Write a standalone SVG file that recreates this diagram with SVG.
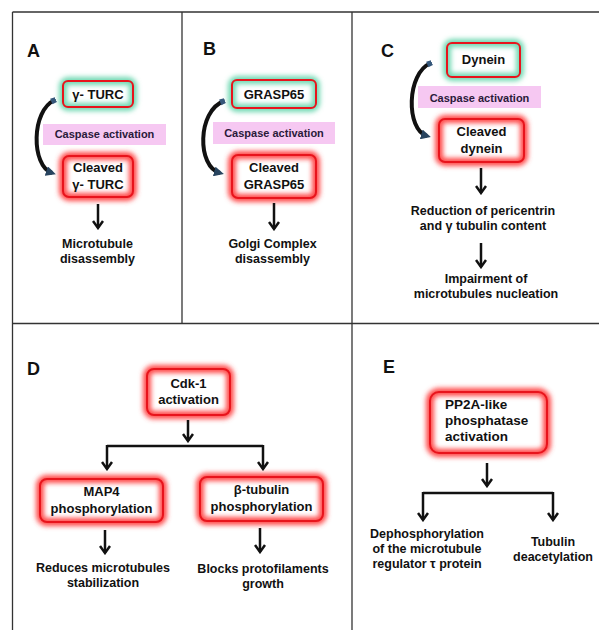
<svg xmlns="http://www.w3.org/2000/svg" width="599" height="630" viewBox="0 0 599 630">
<defs>
<style>
.frame{stroke:#333;stroke-width:1.3;fill:none}
.lbl{font-family:"Liberation Sans",Arial,sans-serif;font-weight:bold;font-size:18px;fill:#111}
.t{font-family:"Liberation Sans",Arial,sans-serif;font-weight:bold;font-size:13px;fill:#111;text-anchor:middle}
.r{font-family:"Liberation Sans",Arial,sans-serif;font-weight:bold;font-size:12.5px;fill:#111;text-anchor:middle}
.cas{font-family:"Liberation Sans",Arial,sans-serif;font-weight:bold;font-size:11px;fill:#2a1a3a;text-anchor:middle}
.pink{fill:#f6c8f2}
.gg{fill:none;stroke:#6fd8b2;stroke-width:8;filter:url(#blur)}
.rg{fill:none;stroke:#ff4a4a;stroke-width:8;filter:url(#blur)}
.box{fill:none;stroke:#e8141c;stroke-width:2}
.arr{stroke:#111;stroke-width:2.5;fill:none;marker-end:url(#chev)}
.seg{stroke:#111;stroke-width:2.5;fill:none}
.curve{stroke:#111;stroke-width:4;fill:none;marker-end:url(#ch);marker-start:url(#tab)}
</style>
<filter id="blur" x="-30%" y="-40%" width="160%" height="180%"><feGaussianBlur stdDeviation="2.6"/></filter>
<marker id="chev" markerUnits="userSpaceOnUse" viewBox="0 0 12 12" refX="10" refY="6" markerWidth="12" markerHeight="12" orient="auto"><path d="M3,1 L10,6 L3,11" fill="none" stroke="#111" stroke-width="2.5"/></marker>
<marker id="ch" markerUnits="userSpaceOnUse" viewBox="0 0 10 10" refX="6" refY="5" markerWidth="10" markerHeight="10" orient="auto"><path d="M0,0 L10,5 L0,10 Z" fill="#28445f"/></marker>
<marker id="tab" markerUnits="userSpaceOnUse" viewBox="0 0 8 8" refX="1" refY="4" markerWidth="8" markerHeight="8" orient="auto"><path d="M0,1.5 L5,1 L5,7 L0,6.5 Z" fill="#35577a"/></marker>
</defs>
<rect width="599" height="630" fill="#fff"/>
<g id="frame">
<line class="frame" x1="12.5" y1="12" x2="599" y2="12"/>
<line class="frame" x1="12.5" y1="12" x2="12.5" y2="630"/>
<line class="frame" x1="182" y1="12" x2="182" y2="323.5"/>
<line class="frame" x1="352" y1="12" x2="352" y2="630"/>
<line class="frame" x1="12.5" y1="323.5" x2="599" y2="323.5"/>
</g>
<g id="labels">
<text class="lbl" x="27" y="57">A</text>
<text class="lbl" x="203" y="55">B</text>
<text class="lbl" x="381" y="57">C</text>
<text class="lbl" x="27" y="375">D</text>
<text class="lbl" x="383" y="373">E</text>
</g>
<g id="caspA"><rect class="pink" x="43" y="124" width="123" height="21"/><text class="cas" x="104.5" y="138">Caspase activation</text></g>
<g id="caspB"><rect class="pink" x="213" y="122" width="122" height="22"/><text class="cas" x="274" y="137">Caspase activation</text></g>
<g id="caspC"><rect class="pink" x="418" y="86" width="123" height="22"/><text class="cas" x="479.5" y="101.5">Caspase activation</text></g>
<g id="nodeA1"><rect class="gg" x="63" y="81" width="70" height="26" rx="5"/><rect class="box" x="63" y="81" width="70" height="26" rx="5"/><text class="t" x="98" y="98.5">γ- TURC</text></g>
<g id="nodeA2"><rect class="rg" x="63" y="156" width="70" height="41" rx="6"/><rect class="box" x="63" y="156" width="70" height="41" rx="6"/><text class="t" x="98" y="172">Cleaved</text><text class="t" x="98" y="188.5">γ- TURC</text></g>
<g id="resA"><text class="r" x="97.5" y="248">Microtubule</text><text class="r" x="97.5" y="263">disassembly</text></g>
<g id="nodeB1"><rect class="gg" x="232" y="80" width="84" height="28" rx="5"/><rect class="box" x="232" y="80" width="84" height="28" rx="5"/><text class="t" x="274" y="98.5">GRASP65</text></g>
<g id="nodeB2"><rect class="rg" x="232" y="155" width="84" height="43" rx="6"/><rect class="box" x="232" y="155" width="84" height="43" rx="6"/><text class="t" x="274" y="172">Cleaved</text><text class="t" x="274" y="189">GRASP65</text></g>
<g id="resB"><text class="r" x="272.5" y="248">Golgi Complex</text><text class="r" x="272.5" y="263">disassembly</text></g>
<g id="nodeC1"><rect class="gg" x="447" y="43" width="73" height="34" rx="5"/><rect class="box" x="447" y="43" width="73" height="34" rx="5"/><text class="t" x="483.5" y="64">Dynein</text></g>
<g id="nodeC2"><rect class="rg" x="439" y="119" width="85" height="43" rx="6"/><rect class="box" x="439" y="119" width="85" height="43" rx="6"/><text class="t" x="481.5" y="136">Cleaved</text><text class="t" x="481.5" y="152.5">dynein</text></g>
<g id="resC1"><text class="r" x="483" y="215">Reduction of pericentrin</text><text class="r" x="483" y="230">and γ tubulin content</text></g>
<g id="resC2"><text class="r" x="486" y="283">Impairment of</text><text class="r" x="486" y="298">microtubules nucleation</text></g>
<g id="nodeD1"><rect class="rg" x="147" y="369" width="83" height="46" rx="7"/><rect class="box" x="147" y="369" width="83" height="46" rx="7"/><text class="t" x="188.5" y="387.5">Cdk-1</text><text class="t" x="188.5" y="404">activation</text></g>
<g id="nodeD2"><rect class="rg" x="40" y="479" width="123" height="43" rx="7"/><rect class="box" x="40" y="479" width="123" height="43" rx="7"/><text class="t" x="101.5" y="496">MAP4</text><text class="t" x="101.5" y="512.5">phosphorylation</text></g>
<g id="nodeD3"><rect class="rg" x="200" y="477" width="123" height="44" rx="7"/><rect class="box" x="200" y="477" width="123" height="44" rx="7"/><text class="t" x="261.5" y="494">β-tubulin</text><text class="t" x="261.5" y="510.5">phosphorylation</text></g>
<g id="resD1"><text class="r" x="103" y="572">Reduces microtubules</text><text class="r" x="103" y="587">stabilization</text></g>
<g id="resD2"><text class="r" x="263" y="573">Blocks protofilaments</text><text class="r" x="263" y="588">growth</text></g>
<g id="nodeE1"><rect class="rg" x="430" y="392" width="117" height="61" rx="9"/><rect class="box" x="430" y="392" width="117" height="61" rx="9"/><text class="t" x="445" y="408.5" style="text-anchor:start;font-size:13.5px">PP2A-like</text><text class="t" x="445" y="424.5" style="text-anchor:start;font-size:13.5px">phosphatase</text><text class="t" x="445" y="440.5" style="text-anchor:start;font-size:13.5px">activation</text></g>
<g id="resE1"><text class="r" x="427" y="538">Dephosphorylation</text><text class="r" x="427" y="553">of the microtubule</text><text class="r" x="427" y="568">regulator τ protein</text></g>
<g id="resE2"><text class="r" x="553" y="546">Tubulin</text><text class="r" x="553" y="561">deacetylation</text></g>
<g id="connectors">
<path class="curve" d="M55,100 C31,110 31,166 52,173"/>
<path class="curve" d="M224,101 C197,111 197,167 220,173"/>
<path class="curve" d="M431,63 C406,73 406,130 427,136"/>
<line class="arr" x1="98" y1="204" x2="98" y2="228"/>
<line class="arr" x1="274" y1="203" x2="274" y2="229"/>
<line class="arr" x1="481" y1="168" x2="481" y2="193"/>
<line class="arr" x1="481" y1="243" x2="481" y2="267"/>
<line class="arr" x1="188" y1="420" x2="188" y2="441"/>
<path class="seg" d="M107,446 H263"/>
<line class="arr" x1="107" y1="445" x2="107" y2="469"/>
<line class="arr" x1="263" y1="445" x2="263" y2="469"/>
<line class="arr" x1="105" y1="530" x2="105" y2="553"/>
<line class="arr" x1="260" y1="528" x2="260" y2="552"/>
<line class="arr" x1="487" y1="463" x2="487" y2="486"/>
<path class="seg" d="M423,493 H553"/>
<line class="arr" x1="423" y1="492" x2="423" y2="520"/>
<line class="arr" x1="553" y1="492" x2="553" y2="520"/>
</g>
</svg>
